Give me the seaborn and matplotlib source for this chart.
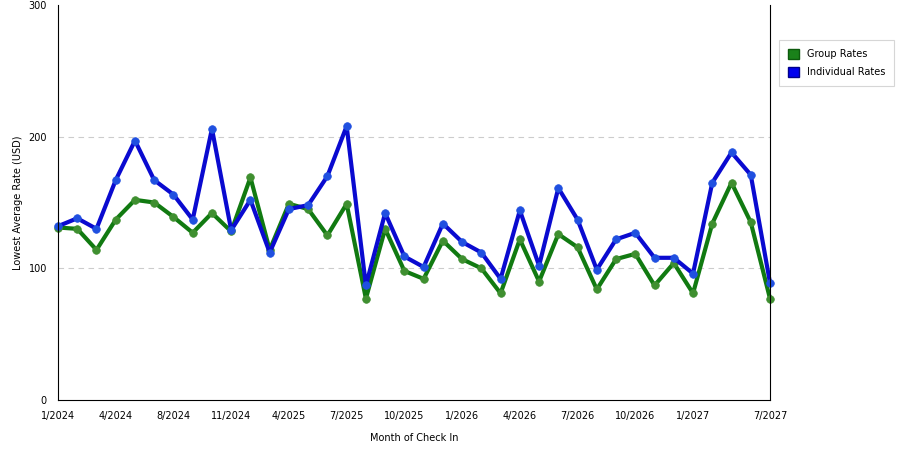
import pandas as pd
import matplotlib
matplotlib.use("Agg")
import matplotlib.pyplot as plt
import seaborn as sns
from matplotlib.patches import Patch

# Data
group_rates = [131, 130, 114, 137, 152, 150, 139, 127, 142, 128, 169, 114, 149, 145, 125, 149,
               77, 130, 98, 92, 121, 107, 100, 81, 122, 90, 126, 116, 84, 107, 111, 87, 104, 81,
               134, 165, 135, 77]
individual_rates = [132, 138, 130, 167, 197, 167, 156, 137, 206, 129, 152, 112, 145, 148, 170, 208,
                    87, 142, 109, 101, 134, 120, 112, 92, 144, 102, 161, 137, 99, 122, 127, 108, 108, 96,
                    165, 188, 171, 89]
tick_pos = [0, 3, 6, 9, 12, 15, 18, 21, 24, 27, 30, 33, 36, 37]
tick_labels = ["1/2024", "4/2024", "8/2024", "11/2024", "4/2025", "7/2025", "10/2025", "1/2026",
               "4/2026", "7/2026", "10/2026", "1/2027", "", "7/2027"]

n = len(group_rates)
df = pd.DataFrame({
    "idx": list(range(n)) * 2,
    "rate": group_rates + individual_rates,
    "series": ["Group Rates"] * n + ["Individual Rates"] * n,
})

sns.set_style("white")
plt.rcParams["font.family"] = ["DejaVu Sans"]
plt.rcParams["font.size"] = 7
plt.rcParams["text.color"] = "black"
plt.rcParams["axes.labelcolor"] = "black"
plt.rcParams["xtick.color"] = "black"
plt.rcParams["ytick.color"] = "black"

fig = plt.figure(figsize=(9, 4.5), dpi=100)
ax = fig.add_axes([58 / 900, 50 / 450, 712 / 900, 395 / 450])

line_colors = {"Group Rates": "#117a11", "Individual Rates": "#0a0ad0"}
marker_colors = {"Group Rates": "#3f8f30", "Individual Rates": "#2050e0"}

ax.set_axisbelow(True)
for y in [100, 200]:
    ax.axhline(y, color="#cccccc", linestyle=(0, (5, 4)), linewidth=0.8, zorder=0)

for name in ["Group Rates", "Individual Rates"]:
    sub = df[df["series"] == name]
    sns.lineplot(data=sub, x="idx", y="rate", ax=ax, color=line_colors[name], linewidth=3,
                 marker="o", markersize=5.5, markerfacecolor=marker_colors[name],
                 markeredgecolor=marker_colors[name], markeredgewidth=0.5, clip_on=False,
                 legend=False)

ax.set_xlim(0, n - 1)
ax.set_ylim(0, 300)
ax.set_yticks([0, 100, 200, 300])
ax.set_xticks(tick_pos)
ax.set_xticklabels(tick_labels)
ax.tick_params(axis="both", direction="out", length=5, width=0.8, color="black",
               labelcolor="black", labelsize=7, pad=3)

for side in ["left", "bottom", "right"]:
    ax.spines[side].set_color("black")
    ax.spines[side].set_linewidth(0.8)
ax.spines["top"].set_visible(False)

ax.set_xlabel("Month of Check In", fontsize=7, labelpad=8.5)
ax.set_ylabel("Lowest Average Rate (USD)", fontsize=7, labelpad=4)

handles = [Patch(facecolor="#1a821a", edgecolor="#0d5a0d", label="Group Rates"),
           Patch(facecolor="#0000ee", edgecolor="#00008a", label="Individual Rates")]
leg = fig.legend(handles=handles, loc="upper left", bbox_to_anchor=(779 / 900, 1 - 40 / 450),
                 fontsize=7, frameon=True, fancybox=False, edgecolor="#cccccc",
                 handlelength=1.2, handleheight=1.2, borderpad=0.9, labelspacing=0.8,
                 handletextpad=0.8, borderaxespad=0)
leg.get_frame().set_linewidth(0.8)

fig.savefig("out.png", dpi=100)
